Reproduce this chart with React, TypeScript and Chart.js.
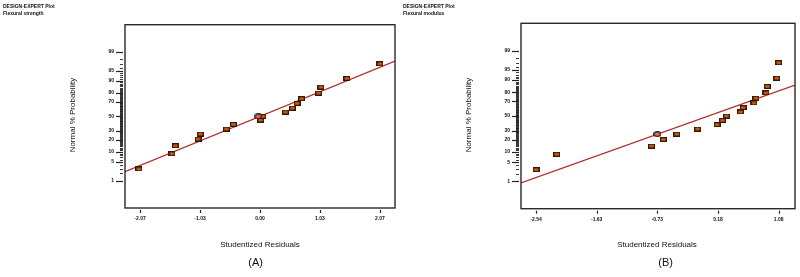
import React, { useEffect, useRef } from "react";
import { Chart, registerables } from "chart.js";

Chart.register(...registerables);

// ---------- Panel A: Flexural strength ----------
const strengthResiduals = [-2.09, -1.52, -1.46, -1.07, -1.03, -0.58, -0.46, 0.01, 0.05, 0.44, 0.56, 0.64, 0.72, 1.01, 1.05, 1.5, 2.07];
const strengthProbabilities = [2.9, 8.9, 14.5, 20.7, 26.2, 32.4, 38.7, 44.7, 50.0, 56.2, 61.7, 68.0, 73.7, 79.9, 85.4, 91.4, 97.1];
const strengthOverlapResiduals = [-0.03];
const strengthOverlapProbabilities = [50.0];
const strengthFitResiduals = [-2.33, 2.33];
const strengthFitProbabilities = [2.31, 97.66];
const strengthTickValues = [-2.07, -1.035, 0, 1.035, 2.07];
const strengthTickLabels = ["-2.07", "-1.03", "0.00", "1.03", "2.07"];

// ---------- Panel B: Flexural modulus ----------
const modulusResiduals = [-2.54, -2.23, -0.82, -0.64, -0.44, -0.13, 0.16, 0.24, 0.3, 0.51, 0.55, 0.71, 0.74, 0.89, 0.91, 1.05, 1.08];
const modulusProbabilities = [2.8, 8.7, 14.2, 20.2, 26.0, 32.1, 37.9, 43.9, 50.0, 55.7, 61.8, 67.9, 73.7, 79.5, 85.4, 91.1, 97.1];
const modulusOverlapResiduals = [-0.73];
const modulusOverlapProbabilities = [26.0];
const modulusFitResiduals = [-2.764, 1.323];
const modulusFitProbabilities = [0.86, 86.4];
const modulusTickValues = [-2.54, -1.635, -0.73, 0.175, 1.08];
const modulusTickLabels = ["-2.54", "-1.63", "-0.73", "0.18", "1.08"];

// ---------- Probability axis ----------
const majorProbabilityTicks = [1, 5, 10, 20, 30, 50, 70, 80, 90, 95, 99];
const minorProbabilityTicks = Array.from({ length: 99 }, (_, i) => i + 1);

// inverse standard normal CDF (Acklam)
function probit(pct: number): number {
  const p = pct / 100;
  const a = [-39.69683028665376, 220.9460984245205, -275.9285104469687, 138.357751867269, -30.66479806614716, 2.506628277459239];
  const b = [-54.47609879822406, 161.5858368580409, -155.6989798598866, 66.80131188771972, -13.28068155288572];
  const c = [-0.007784894002430293, -0.3223964580411365, -2.400758277161838, -2.549732539343734, 4.374664141464968, 2.938163982698783];
  const d = [0.007784695709041462, 0.3224671290700398, 2.445134137142996, 3.754408661907416];
  const pl = 0.02425;
  if (p < pl) {
    const q = Math.sqrt(-2 * Math.log(p));
    return (((((c[0] * q + c[1]) * q + c[2]) * q + c[3]) * q + c[4]) * q + c[5]) / ((((d[0] * q + d[1]) * q + d[2]) * q + d[3]) * q + 1);
  }
  if (p > 1 - pl) {
    const q = Math.sqrt(-2 * Math.log(1 - p));
    return -(((((c[0] * q + c[1]) * q + c[2]) * q + c[3]) * q + c[4]) * q + c[5]) / ((((d[0] * q + d[1]) * q + d[2]) * q + d[3]) * q + 1);
  }
  const q = p - 0.5;
  const r = q * q;
  return ((((((a[0] * r + a[1]) * r + a[2]) * r + a[3]) * r + a[4]) * r + a[5]) * q) / (((((b[0] * r + b[1]) * r + b[2]) * r + b[3]) * r + b[4]) * r + 1);
}

function makeMarker(kind: "rect" | "circle"): HTMLCanvasElement {
  const w = kind === "rect" ? 7 : 8;
  const h = kind === "rect" ? 5 : 6;
  const c = document.createElement("canvas");
  c.width = w;
  c.height = h;
  const ctx = c.getContext("2d")!;
  if (kind === "rect") {
    ctx.fillStyle = "#2b1a0e";
    ctx.fillRect(0, 0, w, h);
    ctx.fillStyle = "#ee5f08";
    ctx.fillRect(1.3, 1.3, w - 2.6, h - 2.6);
  } else {
    ctx.beginPath();
    ctx.ellipse(w / 2, h / 2, w / 2 - 0.6, h / 2 - 0.6, 0, 0, Math.PI * 2);
    ctx.fillStyle = "#cf7272";
    ctx.fill();
    ctx.lineWidth = 1.2;
    ctx.strokeStyle = "#2b1a0e";
    ctx.stroke();
  }
  return c;
}

type Panel = {
  residuals: number[];
  probabilities: number[];
  overlapResiduals: number[];
  overlapProbabilities: number[];
  fitResiduals: number[];
  fitProbabilities: number[];
  tickValues: number[];
  tickLabels: string[];
  xMin: number;
  xMax: number;
  area: { left: number; right: number; top: number; bottom: number };
};

const W = 400;
const H = 277;

const panelA: Panel = {
  residuals: strengthResiduals,
  probabilities: strengthProbabilities,
  overlapResiduals: strengthOverlapResiduals,
  overlapProbabilities: strengthOverlapProbabilities,
  fitResiduals: strengthFitResiduals,
  fitProbabilities: strengthFitProbabilities,
  tickValues: strengthTickValues,
  tickLabels: strengthTickLabels,
  xMin: -2.33,
  xMax: 2.33,
  area: { left: 125, right: 396.7, top: 24.7, bottom: 208 },
};

const panelB: Panel = {
  residuals: modulusResiduals,
  probabilities: modulusProbabilities,
  overlapResiduals: modulusOverlapResiduals,
  overlapProbabilities: modulusOverlapProbabilities,
  fitResiduals: modulusFitResiduals,
  fitProbabilities: modulusFitProbabilities,
  tickValues: modulusTickValues,
  tickLabels: modulusTickLabels,
  xMin: -2.764,
  xMax: 1.323,
  area: { left: 121, right: 395, top: 23.3, bottom: 208.7 },
};

const tickFont = { family: "'Liberation Sans', Arial, sans-serif", size: 5, weight: "bold" as const };

const framePlugin = {
  id: "frameAndTicks",
  afterDraw(chart: any) {
    const { ctx, chartArea } = chart;
    const xs = chart.scales.x;
    const ys = chart.scales.y;
    ctx.save();
    ctx.strokeStyle = "#2a2a2a";
    ctx.lineWidth = 1.4;
    ctx.strokeRect(chartArea.left, chartArea.top, chartArea.right - chartArea.left, chartArea.bottom - chartArea.top);
    ctx.lineWidth = 1;
    ctx.strokeStyle = "#222";
    // y ticks
    minorProbabilityTicks.forEach((p) => {
      const y = Math.round(ys.getPixelForValue(probit(p))) + 0.5;
      const major = majorProbabilityTicks.includes(p);
      const end = chartArea.left - 2;
      const len = major ? 7 : 3;
      ctx.lineWidth = major ? 1.2 : 0.9;
      ctx.beginPath();
      ctx.moveTo(end - len, y);
      ctx.lineTo(end, y);
      ctx.stroke();
    });
    // x ticks
    ctx.lineWidth = 1.2;
    xs.ticks.forEach((t: any) => {
      const x = Math.round(xs.getPixelForValue(t.value)) + 0.5;
      ctx.beginPath();
      ctx.moveTo(x, chartArea.bottom + 2);
      ctx.lineTo(x, chartArea.bottom + 5);
      ctx.stroke();
    });
    ctx.restore();
  },
};

function ProbabilityPlot({ panel }: { panel: Panel }) {
  const ref = useRef<HTMLCanvasElement | null>(null);
  useEffect(() => {
    if (!ref.current) return;
    const rectMarker = makeMarker("rect");
    const circleMarker = makeMarker("circle");
    const { area } = panel;
    const chart = new Chart(ref.current, {
      type: "scatter",
      data: {
        datasets: [
          {
            type: "line",
            data: panel.fitResiduals.map((x, i) => ({ x, y: probit(panel.fitProbabilities[i]) })),
            borderColor: "#b02a2a",
            borderWidth: 1.2,
            pointRadius: 0,
            fill: false,
            order: 3,
          } as any,
          {
            data: panel.residuals.map((x, i) => ({ x, y: probit(panel.probabilities[i]) })),
            pointStyle: rectMarker as any,
            pointRadius: 4,
            order: 2,
          },
          {
            data: panel.overlapResiduals.map((x, i) => ({ x, y: probit(panel.overlapProbabilities[i]) })),
            pointStyle: circleMarker as any,
            pointRadius: 4,
            order: 1,
          },
        ],
      },
      options: {
        animation: false,
        responsive: false,
        events: [],
        layout: { padding: { left: 0, top: area.top, right: W - area.right, bottom: 0 } },
        plugins: { legend: { display: false }, tooltip: { enabled: false }, title: { display: false } },
        scales: {
          x: {
            type: "linear",
            min: panel.xMin,
            max: panel.xMax,
            afterFit: (s: any) => {
              s.height = H - area.bottom;
            },
            afterBuildTicks: (s: any) => {
              s.ticks = panel.tickValues.map((v) => ({ value: v }));
            },
            ticks: {
              autoSkip: false,
              maxRotation: 0,
              padding: 8,
              color: "#111",
              font: tickFont,
              callback: (_v: any, i: number) => panel.tickLabels[i],
            },
            grid: { display: false, drawTicks: false },
            border: { display: false },
          },
          y: {
            type: "linear",
            min: -3.3,
            max: 3.3,
            afterFit: (s: any) => {
              s.width = area.left;
            },
            afterBuildTicks: (s: any) => {
              s.ticks = majorProbabilityTicks.map((p) => ({ value: probit(p) }));
            },
            ticks: {
              autoSkip: false,
              padding: 11,
              color: "#111",
              font: tickFont,
              callback: (_v: any, i: number) => String(majorProbabilityTicks[i]),
            },
            grid: { display: false, drawTicks: false },
            border: { display: false },
          },
        },
      },
      plugins: [framePlugin],
    } as any);
    return () => chart.destroy();
  }, [panel]);
  return <canvas ref={ref} width={W} height={H} style={{ display: "block", width: W, height: H }} />;
}

const textBase: React.CSSProperties = {
  position: "absolute",
  fontFamily: "'Liberation Sans', Arial, sans-serif",
  color: "#111",
  whiteSpace: "nowrap",
};

function Labels({ offset, plotName, letter, yTitleX, xTitleX, letterX }: { offset: number; plotName: string; letter: string; yTitleX: number; xTitleX: number; letterX: number }) {
  return (
    <>
      <div style={{ ...textBase, left: offset + 3, top: 3, fontSize: 5, lineHeight: "6.5px", fontWeight: "bold" }}>
        DESIGN-EXPERT Plot
        <br />
        {plotName}
      </div>
      <div style={{ ...textBase, left: yTitleX, top: 115, fontSize: 8, transform: "translate(-50%, -50%) rotate(-90deg)" }}>
        Normal % Probability
      </div>
      <div style={{ ...textBase, left: xTitleX, top: 243.5, fontSize: 8, transform: "translate(-50%, -50%)" }}>
        Studentized Residuals
      </div>
      <div style={{ ...textBase, left: letterX, top: 261.7, fontSize: 11, transform: "translate(-50%, -50%)" }}>
        {letter}
      </div>
    </>
  );
}

export default function App() {
  return (
    <div style={{ position: "fixed", left: 0, top: 0, width: 800, height: 277, background: "#fff", overflow: "hidden" }}>
      <div style={{ position: "absolute", left: 0, top: 0 }}>
        <ProbabilityPlot panel={panelA} />
      </div>
      <div style={{ position: "absolute", left: 400, top: 0 }}>
        <ProbabilityPlot panel={panelB} />
      </div>
      <Labels offset={0} plotName="Flexural strength" letter="(A)" yTitleX={72} xTitleX={260} letterX={255.7} />
      <Labels offset={400} plotName="Flexural modulus" letter="(B)" yTitleX={468} xTitleX={657} letterX={665.7} />
    </div>
  );
}
